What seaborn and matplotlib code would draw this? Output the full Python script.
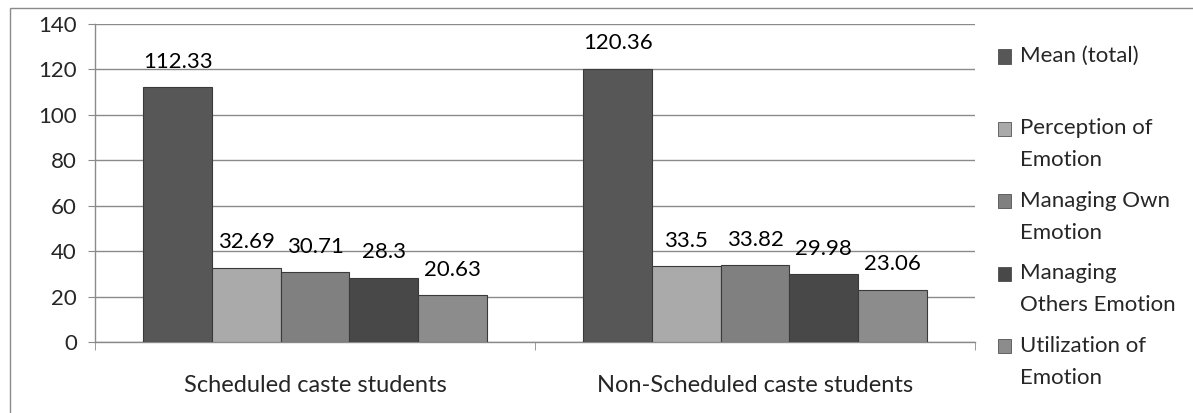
import numpy as np
import pandas as pd
import matplotlib.pyplot as plt
import matplotlib.patches as mpatches
import seaborn as sns

groups = ['Scheduled caste students', 'Non-Scheduled caste students']
series = ['Mean (total)', 'Perception of Emotion', 'Managing Own Emotion',
          'Managing Others Emotion', 'Utilization of Emotion']
legend_labels = ['Mean (total)\n', 'Perception of\nEmotion', 'Managing Own\nEmotion',
                 'Managing\nOthers Emotion', 'Utilization of\nEmotion']
sc_values = [112.33, 32.69, 30.71, 28.3, 20.63]
nsc_values = [120.36, 33.5, 33.82, 29.98, 23.06]
colors = ['#575757', '#aaaaaa', '#808080', '#484848', '#8c8c8c']

df = pd.DataFrame({
    'group': np.repeat(groups, len(series)),
    'series': series * 2,
    'value': sc_values + nsc_values,
})

sns.set_style('white')
plt.rcParams['font.family'] = ['Lato', 'DejaVu Sans']
FS = 16

fig = plt.figure(figsize=(11.93, 4.13), dpi=100)
ax = fig.add_axes([95 / 1193, 1 - 342 / 413, 880 / 1193, 318 / 413])

sns.barplot(data=df, x='group', y='value', hue='series', hue_order=series,
            palette=colors, width=0.78, gap=0, ax=ax, legend=False,
            edgecolor='#3a3a3a', linewidth=0.8, zorder=3)

# data labels
for cont in ax.containers:
    ax.bar_label(cont, labels=[f'{v:g}' for v in cont.datavalues],
                 padding=11, fontsize=FS, color='black')

ax.set_ylim(0, 140)
ax.set_yticks(range(0, 141, 20))
ax.set_xlim(-0.5, 1.5)
ax.yaxis.grid(True, color='#8a8a8a', linewidth=1, zorder=0)
ax.set_axisbelow(True)
for s in ['top', 'right']:
    ax.spines[s].set_visible(False)
for s in ['left', 'bottom']:
    ax.spines[s].set_color('#8a8a8a')
    ax.spines[s].set_linewidth(1)
ax.tick_params(axis='y', left=True, length=5, color='#8a8a8a', labelsize=FS, pad=8)
ax.set_xticks([-0.5, 0.5, 1.5], minor=True)
ax.tick_params(axis='x', which='minor', bottom=True, length=6, color='#8a8a8a')
ax.tick_params(axis='x', which='major', length=0, labelsize=17, pad=24)
ax.set_xlabel('')
ax.set_ylabel('')

handles = [mpatches.Patch(facecolor=c, edgecolor='#3a3a3a', linewidth=0.5) for c in colors]
leg = fig.legend(handles, legend_labels, loc='upper left',
                 bbox_to_anchor=(998 / 1193, 1 - 46 / 413), frameon=False,
                 fontsize=FS, handlelength=0.6, handleheight=0.6, handletextpad=0.4,
                 labelspacing=0.92, borderaxespad=0, borderpad=0)
for t in leg.get_texts():
    t.set_linespacing(1.75)

# move the legend squares up to the first line of each label
fig.canvas.draw()
r = fig.canvas.get_renderer()
fs_px = FS * fig.dpi / 72
for h, t in zip(leg.legend_handles, leg.get_texts()):
    tb = t.get_window_extent(r)
    hb = h.get_window_extent(r)
    target = tb.y1 - 0.47 * fs_px
    dy = (target - (hb.y0 + hb.y1) / 2) * 72 / fig.dpi
    h.set_y(h.get_y() + dy)

# outer chart border
fig.patches.append(mpatches.Rectangle((10 / 1193, -0.1), 1.2, 1 - 8 / 413 + 0.1,
                                      transform=fig.transFigure, fill=False,
                                      edgecolor='#8a8a8a', linewidth=1))

fig.savefig('out.png', dpi=100)
